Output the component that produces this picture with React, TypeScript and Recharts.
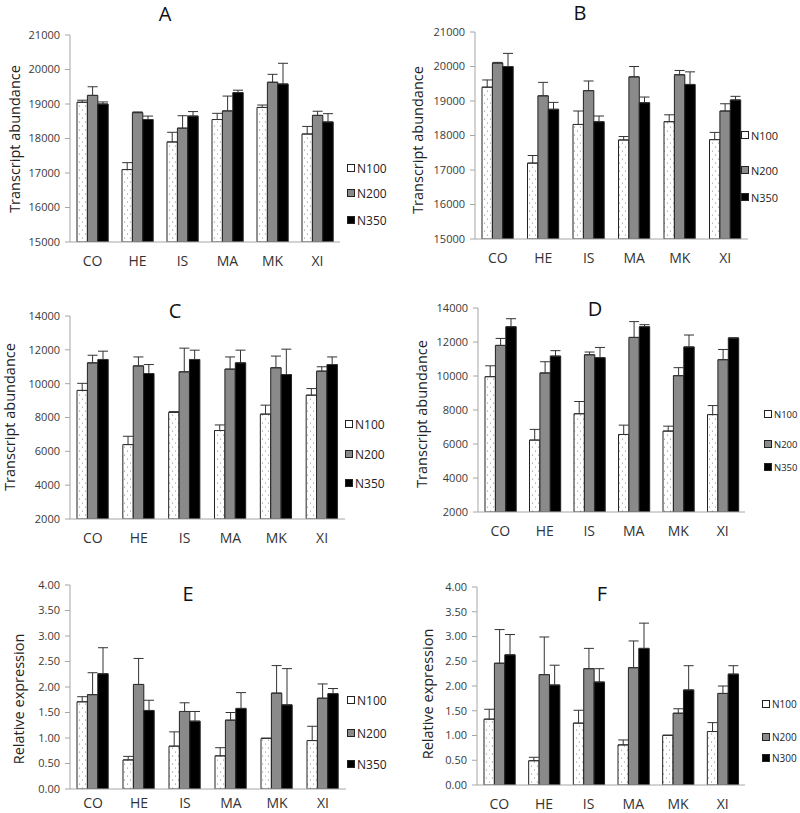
import { BarChart, Bar, XAxis, YAxis, ErrorBar } from 'recharts';

// ── Data ─────────────────────────────────────────────────────

const categories = ['CO', 'HE', 'IS', 'MA', 'MK', 'XI'];
const FONT = '"Open Sans", sans-serif';

// A
const aN100 = [19050, 17100, 17900, 18550, 18900, 18130];
const aN100Err = [60, 200, 280, 180, 70, 220];
const aN200 = [19250, 18750, 18300, 18800, 19630, 18670];
const aN200Err = [250, 20, 360, 430, 230, 120];
const aN350 = [19000, 18550, 18650, 19330, 19580, 18480];
const aN350Err = [60, 100, 130, 70, 600, 240];

// B
const bN100 = [19400, 17200, 18320, 17870, 18400, 17880];
const bN100Err = [210, 220, 390, 100, 200, 210];
const bN200 = [20100, 19150, 19300, 19700, 19760, 18710];
const bN200Err = [20, 390, 280, 300, 125, 210];
const bN350 = [20000, 18760, 18400, 18950, 19480, 19030];
const bN350Err = [380, 200, 165, 165, 365, 105];

// C
const cN100 = [9600, 6400, 8300, 7230, 8200, 9320];
const cN100Err = [420, 490, 50, 330, 530, 390];
const cN200 = [11230, 11050, 10700, 10860, 10940, 10740];
const cN200Err = [450, 530, 1400, 720, 690, 260];
const cN350 = [11430, 10600, 11430, 11230, 10540, 11130];
const cN350Err = [490, 530, 550, 750, 1500, 450];

// D
const dN100 = [9960, 6230, 7780, 6560, 6760, 7730];
const dN100Err = [640, 630, 720, 550, 290, 530];
const dN200 = [11800, 10180, 11250, 12270, 10020, 10960];
const dN200Err = [410, 660, 160, 930, 470, 600];
const dN350 = [12900, 11170, 11080, 12900, 11710, 12230];
const dN350Err = [470, 320, 600, 120, 700, 20];

// E
const eN100 = [1.71, 0.57, 0.84, 0.65, 0.99, 0.95];
const eN100Err = [0.1, 0.07, 0.28, 0.16, 0.01, 0.28];
const eN200 = [1.85, 2.05, 1.52, 1.35, 1.88, 1.78];
const eN200Err = [0.43, 0.51, 0.17, 0.15, 0.54, 0.28];
const eN350 = [2.26, 1.54, 1.33, 1.58, 1.65, 1.87];
const eN350Err = [0.51, 0.2, 0.19, 0.31, 0.71, 0.1];

// F
const fN100 = [1.33, 0.49, 1.25, 0.81, 1.0, 1.08];
const fN100Err = [0.2, 0.07, 0.26, 0.1, 0.01, 0.18];
const fN200 = [2.46, 2.23, 2.35, 2.37, 1.45, 1.85];
const fN200Err = [0.68, 0.76, 0.41, 0.54, 0.09, 0.15];
const fN300 = [2.63, 2.02, 2.08, 2.76, 1.92, 2.24];
const fN300Err = [0.41, 0.4, 0.27, 0.51, 0.49, 0.17];

const abundanceTicksAB = [15000, 16000, 17000, 18000, 19000, 20000, 21000];
const abundanceTicksCD = [2000, 4000, 6000, 8000, 10000, 12000, 14000];
const relativeTicks = [0, 0.5, 1, 1.5, 2, 2.5, 3, 3.5, 4];

// ── Panel ────────────────────────────────────────────────────

interface PanelProps {
  id: string;
  title: string;
  titlePos: [number, number];
  axisX: number;
  topY: number;
  plotW: number;
  plotH: number;
  domain: [number, number];
  ticks: number[];
  decimals: number;
  values: number[][];
  errors: number[][];
  names: string[];
  legendX: number;
  legendY: number[];
  legendFont: number;
  yLabel: string;
  yLabelPos: [number, number];
  xTickMargin?: number;
}

const SERIES_FILL = (id: string) => [`url(#dots-${id})`, '#8a8a8a', '#000'];
const SWATCH_BG = ['#fff', '#8a8a8a', '#000'];

function Panel(p: PanelProps) {
  const rows = categories.map((cat, i) => ({
    cat,
    v0: p.values[0][i], e0: p.errors[0][i],
    v1: p.values[1][i], e1: p.errors[1][i],
    v2: p.values[2][i], e2: p.errors[2][i],
  }));
  const fills = SERIES_FILL(p.id);
  const fmt = (v: number) => (p.decimals ? v.toFixed(p.decimals) : String(v));

  return (
    <>
      <div style={{ position: 'absolute', left: p.axisX - 70, top: p.topY - 35 }}>
        <BarChart
          width={70 + p.plotW + 10}
          height={35 + p.plotH + 35}
          data={rows}
          margin={{ top: 35, right: 10, bottom: 5, left: 5 }}
          barGap={0}
          barSize={10.4}
        >
          <defs>
            <pattern id={`dots-${p.id}`} width="6" height="8" patternUnits="userSpaceOnUse">
              <rect width="6" height="8" fill="#fff" />
              <circle cx="1.5" cy="2" r="0.6" fill="#777" />
              <circle cx="4.5" cy="6" r="0.6" fill="#777" />
            </pattern>
          </defs>
          <XAxis
            xAxisId="bounds"
            type="number"
            domain={[0, 6]}
            ticks={[0, 1, 2, 3, 4, 5, 6]}
            tick={false}
            axisLine={false}
            tickLine={{ stroke: '#a6a6a6' }}
            tickSize={5}
            height={0}
            allowDataOverflow
          />
          <XAxis
            dataKey="cat"
            interval={0}
            axisLine={{ stroke: '#a6a6a6' }}
            tickLine={false}
            tickMargin={p.xTickMargin ?? 8}
            height={30}
            tick={{ fill: '#333', fontSize: 14, fontFamily: FONT }}
          />
          <YAxis
            domain={p.domain}
            ticks={p.ticks}
            interval={0}
            width={65}
            allowDataOverflow
            axisLine={{ stroke: '#a6a6a6' }}
            tickLine={{ stroke: '#a6a6a6' }}
            tickSize={5}
            tickMargin={5}
            tickFormatter={fmt}
            tick={{ fill: '#3a3a3a', fontSize: 11, fontFamily: FONT }}
          />
          {[0, 1, 2].map((s) => (
            <Bar
              key={s}
              dataKey={`v${s}`}
              name={p.names[s]}
              fill={fills[s]}
              stroke="#222"
              strokeWidth={1}
              isAnimationActive={false}
            >
              <ErrorBar
                dataKey={(d: Record<string, number>) => [0, d[`e${s}`]]}
                width={5}
                stroke="#333"
                strokeWidth={1}
                direction="y"
              />
            </Bar>
          ))}
        </BarChart>
      </div>

      <div
        style={{
          position: 'absolute', left: p.titlePos[0], top: p.titlePos[1],
          transform: 'translate(-50%, -50%)', fontFamily: FONT, fontSize: 20, color: '#111',
        }}
      >
        {p.title}
      </div>

      <div
        style={{
          position: 'absolute', left: p.yLabelPos[0], top: p.yLabelPos[1],
          transform: 'translate(-50%, -50%) rotate(-90deg)', whiteSpace: 'nowrap',
          fontFamily: FONT, fontSize: 14.5, color: '#222',
        }}
      >
        {p.yLabel}
      </div>

      {p.names.map((n, s) => (
        <div
          key={n}
          style={{
            position: 'absolute', left: p.legendX, top: p.legendY[s] - 8, height: 16,
            display: 'flex', alignItems: 'center', whiteSpace: 'nowrap',
            fontFamily: FONT, fontSize: p.legendFont, color: '#222',
          }}
        >
          <span
            style={{
              display: 'inline-block', width: 6, height: 6, border: '1px solid #222',
              background: SWATCH_BG[s], marginRight: 2,
            }}
          />
          {n}
        </div>
      ))}
    </>
  );
}

export default function App() {
  const names350 = ['N100', 'N200', 'N350'];
  return (
    <div style={{ position: 'absolute', left: 0, top: 0, width: 800, height: 813, overflow: 'hidden', background: '#fff' }}>
      <Panel
        id="a" title="A" titlePos={[165, 13]}
        axisX={70} topY={35} plotW={270} plotH={207}
        domain={[15000, 21000]} ticks={abundanceTicksAB} decimals={0}
        values={[aN100, aN200, aN350]} errors={[aN100Err, aN200Err, aN350Err]}
        names={names350} legendX={347} legendY={[168, 193, 220]} legendFont={12}
        yLabel="Transcript abundance" yLabelPos={[14, 139]}
      />
      <Panel
        id="b" title="B" titlePos={[580, 12]}
        axisX={475} topY={32} plotW={273} plotH={207}
        domain={[15000, 21000]} ticks={abundanceTicksAB} decimals={0}
        values={[bN100, bN200, bN350]} errors={[bN100Err, bN200Err, bN350Err]}
        names={names350} legendX={741} legendY={[135, 170, 197]} legendFont={11}
        yLabel="Transcript abundance" yLabelPos={[417, 140]}
      />
      <Panel
        id="c" title="C" titlePos={[175, 310]}
        axisX={70} topY={316} plotW={275} plotH={203}
        domain={[2000, 14000]} ticks={abundanceTicksCD} decimals={0}
        values={[cN100, cN200, cN350]} errors={[cN100Err, cN200Err, cN350Err]}
        names={names350} legendX={345} legendY={[424, 454, 483]} legendFont={12}
        yLabel="Transcript abundance" yLabelPos={[9, 417]}
      />
      <Panel
        id="d" title="D" titlePos={[595, 308]}
        axisX={478} topY={308} plotW={267} plotH={204}
        domain={[2000, 14000]} ticks={abundanceTicksCD} decimals={0}
        values={[dN100, dN200, dN350]} errors={[dN100Err, dN200Err, dN350Err]}
        names={names350} legendX={764} legendY={[414, 444, 467]} legendFont={9.5}
        yLabel="Transcript abundance" yLabelPos={[421, 414]}
      />
      <Panel
        id="e" title="E" titlePos={[188, 593]}
        axisX={70} topY={585} plotW={276} plotH={204}
        domain={[0, 4]} ticks={relativeTicks} decimals={2}
        values={[eN100, eN200, eN350]} errors={[eN100Err, eN200Err, eN350Err]}
        names={names350} legendX={347} legendY={[700, 733, 764]} legendFont={12}
        yLabel="Relative expression" yLabelPos={[18, 699]}
        xTickMargin={3}
      />
      <Panel
        id="f" title="F" titlePos={[602, 593]}
        axisX={477} topY={587} plotW={268} plotH={198}
        domain={[0, 4]} ticks={relativeTicks} decimals={2}
        values={[fN100, fN200, fN300]} errors={[fN100Err, fN200Err, fN300Err]}
        names={['N100', 'N200', 'N300']} legendX={762} legendY={[704, 737, 758]} legendFont={10}
        yLabel="Relative expression" yLabelPos={[427, 694]}
      />
    </div>
  );
}
